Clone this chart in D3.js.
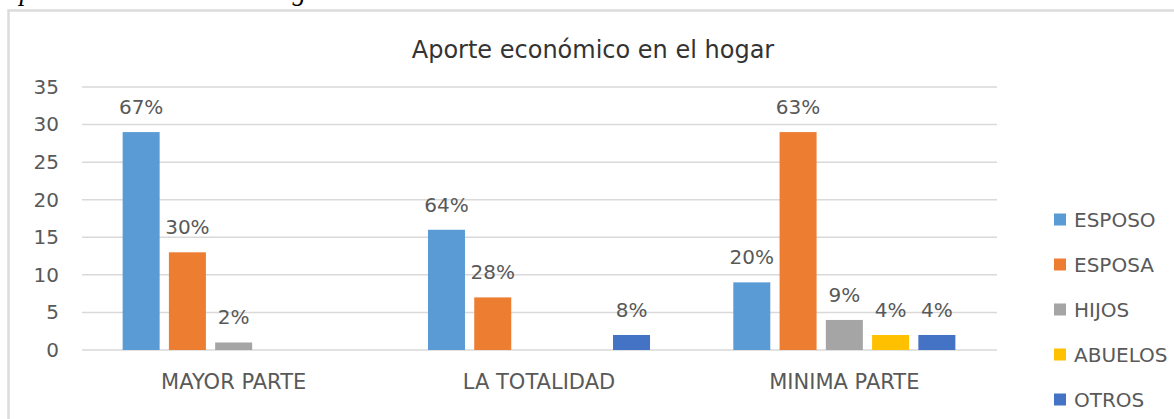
<!DOCTYPE html>
<html>
  <head>
    <meta charset="UTF-8">
    <title>Aporte económico en el hogar</title>
    <script src="https://cdnjs.cloudflare.com/ajax/libs/d3/7.8.5/d3.min.js"></script>
    <style type="text/css">
      body {
        margin: 0px;
        background: #fff;
        overflow: hidden;
      }
      text {
        font-family: "DejaVu Sans", sans-serif;
        fill: #595959;
      }
      .caption {
        font-family: "Liberation Serif", serif;
        font-style: italic;
        font-size: 27px;
        fill: #000;
      }
      .title {
        font-size: 24px;
        fill: #333;
        text-anchor: middle;
      }
      .grid line {
        stroke: #d9d9d9;
        stroke-width: 1.5;
      }
    </style>
  </head>
  <body>
    <div id="chart"></div>
    <script>
      const categories = ["MAYOR PARTE", "LA TOTALIDAD", "MINIMA PARTE"];
      const seriesNames = ["ESPOSO", "ESPOSA", "HIJOS", "ABUELOS", "OTROS"];
      const seriesColors = ["#5B9BD5", "#ED7D31", "#A5A5A5", "#FFC000", "#4472C4"];
      const esposo = [29, 16, 9];
      const esposa = [13, 7, 29];
      const hijos = [1, 0, 4];
      const abuelos = [0, 0, 2];
      const otros = [0, 2, 2];
      const esposoPct = ["67%", "64%", "20%"];
      const esposaPct = ["30%", "28%", "63%"];
      const hijosPct = ["2%", "", "9%"];
      const abuelosPct = ["", "", "4%"];
      const otrosPct = ["", "8%", "4%"];
      const yTicks = [0, 5, 10, 15, 20, 25, 30, 35];

      const seriesValues = [esposo, esposa, hijos, abuelos, otros];
      const seriesPct = [esposoPct, esposaPct, hijosPct, abuelosPct, otrosPct];

      // flatten to one row per bar
      const bars = [];
      seriesNames.forEach((s, si) => {
        categories.forEach((c, ci) => {
          bars.push({serie: s, cat: c, value: seriesValues[si][ci], label: seriesPct[si][ci], color: seriesColors[si]});
        });
      });

      const width = 1174, height = 419;
      const svg = d3.select("#chart").append("svg")
        .attr("width", width)
        .attr("height", height);

      // caption of the document, cut at the top
      svg.append("text").attr("class", "caption")
        .attr("x", 3).attr("y", 0)
        .text("Aporte económico en el hogar");

      // chart frame
      svg.append("rect")
        .attr("x", 8.5).attr("y", 10.5)
        .attr("width", 1200).attr("height", 500)
        .attr("fill", "none")
        .attr("stroke", "#dcdcdc")
        .attr("stroke-width", 2.5);

      svg.append("text").attr("class", "title")
        .attr("x", 593).attr("y", 58)
        .text("Aporte económico en el hogar");

      const y = d3.scaleLinear().domain([0, 35]).range([350, 87]);
      const x0 = d3.scaleBand().domain(categories).range([81, 997]);
      const x1 = d3.scaleBand().domain(seriesNames)
        .range([0, x0.bandwidth()])
        .paddingInner(0.2).paddingOuter(0.9);

      // gridlines
      svg.append("g").attr("class", "grid")
        .selectAll("line").data(yTicks).enter()
        .append("line")
        .attr("x1", 82).attr("x2", 997)
        .attr("y1", d => y(d)).attr("y2", d => y(d));

      // y axis labels
      const yAxis = d3.axisLeft(y).tickValues(yTicks).tickSize(0).tickPadding(0);
      const gy = svg.append("g").attr("transform", "translate(59,0)").call(yAxis);
      gy.select(".domain").remove();
      gy.selectAll("text").style("font-size", "20px").style("font-family", "DejaVu Sans").attr("fill", "#595959");

      // x axis labels
      const xAxis = d3.axisBottom(x0).tickSize(0).tickPadding(0);
      const gx = svg.append("g").attr("transform", "translate(0,374)").call(xAxis);
      gx.select(".domain").remove();
      gx.selectAll("text").style("font-size", "21px").style("font-family", "DejaVu Sans").attr("fill", "#595959");

      // bars
      svg.append("g").selectAll("rect").data(bars).enter()
        .append("rect")
        .attr("x", d => x0(d.cat) + x1(d.serie))
        .attr("y", d => y(d.value))
        .attr("width", x1.bandwidth())
        .attr("height", d => y(0) - y(d.value))
        .attr("fill", d => d.color);

      // data labels
      svg.append("g").selectAll("text").data(bars.filter(d => d.label !== "")).enter()
        .append("text")
        .attr("x", d => x0(d.cat) + x1(d.serie) + x1.bandwidth() / 2)
        .attr("y", d => y(d.value) - 18)
        .attr("text-anchor", "middle")
        .style("font-size", "20px")
        .text(d => d.label);

      // legend
      const legend = svg.append("g").selectAll("g").data(seriesNames).enter()
        .append("g")
        .attr("transform", (d, i) => `translate(1054,${219.5 + i * 45})`);
      legend.append("rect")
        .attr("x", 0).attr("y", -6)
        .attr("width", 12).attr("height", 12)
        .attr("fill", (d, i) => seriesColors[i]);
      legend.append("text")
        .attr("x", 20).attr("y", 7)
        .style("font-size", "20px")
        .text(d => d);
    </script>
  </body>
</html>
